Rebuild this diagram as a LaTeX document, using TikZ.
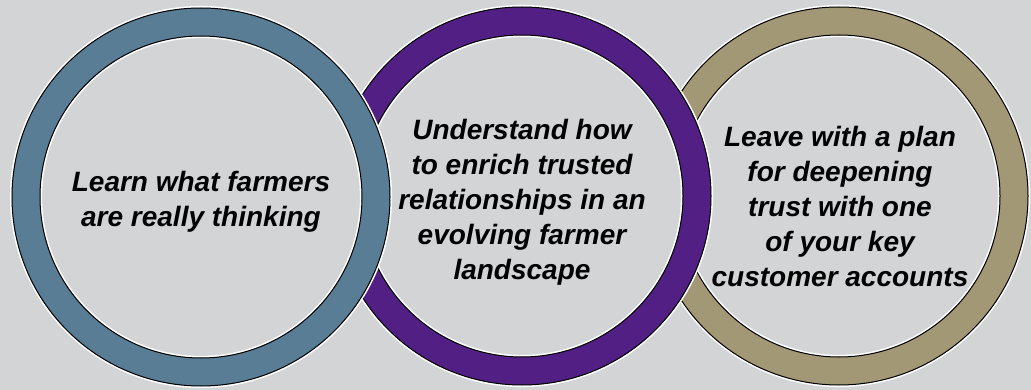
\documentclass[tikz,border=0pt]{standalone}
\usepackage{fontspec}
\setmainfont{Liberation Sans}
\definecolor{bg}{RGB}{211,212,214}
\definecolor{ringblue}{RGB}{88,125,149}
\definecolor{ringpurple}{RGB}{82,32,132}
\definecolor{ringtan}{RGB}{163,152,118}
\tikzset{
  ringtext/.style={font=\fontsize{28}{35}\selectfont\bfseries\itshape, align=center, text=black, inner sep=0pt},
  halo/.style={white, line width=1.6pt},
  edge/.style={black, line width=1pt}
}
\begin{document}
\begin{tikzpicture}[x=1pt,y=-1pt]
  \fill[bg] (0,0) rectangle (1031,390);
  \useasboundingbox (0,0) rectangle (1031,390);
  \foreach \cx/\cy/\col in {839/196/ringtan, 522/196/ringpurple, 201/197/ringblue}{
    \fill[bg] (\cx,\cy) circle (190pt);
    \draw[halo] (\cx,\cy) circle (190.3pt);
    \draw[halo] (\cx,\cy) circle (159.7pt);
    \draw[\col, line width=28pt] (\cx,\cy) circle (175pt);
    \draw[edge] (\cx,\cy) circle (189pt);
    \draw[edge] (\cx,\cy) circle (161pt);
  }
  \node[ringtext] (t1) at (201,202) {Learn what farmers\\are really thinking};
  \node[ringtext] (t2) at (522,202) {Understand how\\to enrich trusted\\relationships in an\\evolving farmer\\landscape};
  \node[ringtext] (t3) at (840,206) {Leave with a plan\\for deepening\\trust with one\\of your key\\customer accounts};
\end{tikzpicture}
\end{document}
